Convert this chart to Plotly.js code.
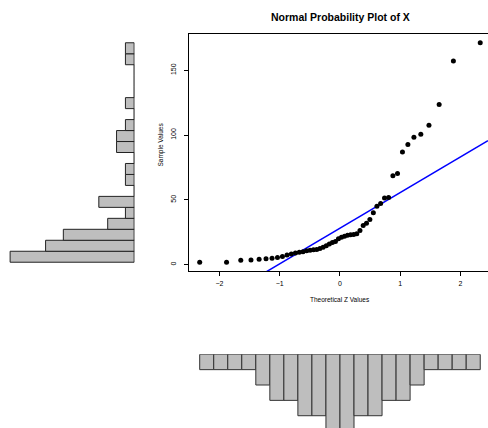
<!DOCTYPE html>
<html>
<head>
<meta charset="utf-8">
<script src="https://cdn.plot.ly/plotly-3.0.1.min.js"></script>
<style>
  html, body { margin: 0; padding: 0; background: #ffffff; }
  #chart { width: 488px; height: 428px; }
</style>
</head>
<body>
<div id="chart"></div>
<script>
// ---- data ----
// Theoretical normal quantiles (50 points)
const theoreticalZ = [
  -2.3263, -1.8808, -1.6449, -1.4758, -1.3408, -1.2265, -1.1264, -1.0364, -0.9542, -0.8779,
  -0.8064, -0.7388, -0.6745, -0.6128, -0.5534, -0.4959, -0.4399, -0.3853, -0.3319, -0.2793,
  -0.2275, -0.1764, -0.1257, -0.0753, -0.0251,  0.0251,  0.0753,  0.1257,  0.1764,  0.2275,
   0.2793,  0.3319,  0.3853,  0.4399,  0.4959,  0.5534,  0.6128,  0.6745,  0.7388,  0.8064,
   0.8779,  0.9542,  1.0364,  1.1264,  1.2265,  1.3408,  1.4758,  1.6449,  1.8808,  2.3263
];
// Sorted sample values of X
const sampleValues = [
   1.8,   1.8,   3.3,   3.6,   4.1,   4.4,   4.9,   5.4,   6.3,   7.3,
   8.2,   8.9,   9.4,   9.8,  10.6,  11.0,  11.4,  11.7,  12.3,  13.3,
  14.6,  15.8,  17.0,  17.8,  19.9,  21.1,  21.9,  22.6,  23.0,  23.2,
  23.8,  26.3,  30.2,  31.9,  34.8,  40.0,  45.0,  47.2,  51.3,  51.8,
  68.6,  70.2,  86.9,  92.6,  98.2, 100.5, 107.5, 123.5, 157.2, 171.2
];
const nBins = 20;
const titleText = "Normal Probability Plot of X";
const xTitleText = "Theoretical Z Values";
const yTitleText = "Sample Values";

// ---- helpers ----
function binCounts(vals, n) {
  const lo = Math.min(...vals), hi = Math.max(...vals);
  const w = (hi - lo) / n;
  const counts = new Array(n).fill(0);
  vals.forEach(v => {
    let k = Math.ceil((v - lo) / w - 1e-9) - 1;
    if (k < 0) k = 0;
    if (k > n - 1) k = n - 1;
    counts[k]++;
  });
  const centers = counts.map((_, i) => lo + w * (i + 0.5));
  return { counts, centers, w, lo, hi };
}
function quantile7(sorted, p) {
  const h = (sorted.length - 1) * p;
  const lo = Math.floor(h);
  return sorted[lo] + (h - lo) * (sorted[Math.min(lo + 1, sorted.length - 1)] - sorted[lo]);
}

const sorted = sampleValues.slice().sort((a, b) => a - b);
const q1 = quantile7(sorted, 0.25), q3 = quantile7(sorted, 0.75);
const zq = 0.6744898;
const slope = (q3 - q1) / (2 * zq);
const intercept = q1 + slope * zq;

const xRange = [-2.512, 2.455];
const yRange = [-4.98, 177.98];
const lineX = xRange.slice();
const lineY = lineX.map(z => intercept + slope * z);

const hy = binCounts(sampleValues, nBins);
const hz = binCounts(theoreticalZ, nBins);

const W = 488, H = 428;
const FONT = "Liberation Sans, Arial, Helvetica, sans-serif";
const barFill = "#bebebe";

const traces = [
  // left histogram (sample values, horizontal)
  {
    type: "bar", orientation: "h",
    x: hy.counts, y: hy.centers, width: hy.w,
    xaxis: "x2", yaxis: "y",
    marker: { color: barFill, line: { color: "#222222", width: 1 } },
    hoverinfo: "skip", showlegend: false
  },
  {
    type: "scatter", mode: "lines",
    x: [0, 0], y: [hy.lo, hy.hi],
    xaxis: "x2", yaxis: "y",
    line: { color: "#222222", width: 1 },
    hoverinfo: "skip", showlegend: false
  },
  // bottom histogram (theoretical z, hanging down)
  {
    type: "bar",
    x: hz.centers, y: hz.counts, width: hz.w,
    xaxis: "x", yaxis: "y3",
    marker: { color: barFill, line: { color: "#333333", width: 1 } },
    hoverinfo: "skip", showlegend: false
  },
  // qq line
  {
    type: "scatter", mode: "lines",
    x: lineX, y: lineY,
    xaxis: "x", yaxis: "y",
    line: { color: "#0000ff", width: 1.5 },
    hoverinfo: "skip", showlegend: false
  },
  // points
  {
    type: "scatter", mode: "markers",
    x: theoreticalZ, y: sampleValues,
    xaxis: "x", yaxis: "y",
    marker: { color: "#000000", size: 5 },
    hoverinfo: "skip", showlegend: false
  }
];

const layout = {
  width: W, height: H,
  margin: { l: 0, r: 0, t: 0, b: 0, pad: 0 },
  paper_bgcolor: "#ffffff", plot_bgcolor: "rgba(0,0,0,0)",
  showlegend: false,
  bargap: 0,
  font: { family: FONT, color: "#000000" },
  xaxis: {
    domain: [188.5 / W, 1], range: xRange, anchor: "y",
    showgrid: false, zeroline: false,
    showline: true, mirror: true, linecolor: "#000000", linewidth: 1,
    ticks: "outside", ticklen: 4, tickwidth: 1, tickcolor: "#000000",
    tickmode: "linear", tick0: 0, dtick: 1,
    ticklabelstandoff: 2,
    tickfont: { family: FONT, size: 7, color: "#000000" }
  },
  yaxis: {
    domain: [1 - 271 / H, 1 - 34 / H], range: yRange, anchor: "x",
    showgrid: false, zeroline: false,
    showline: true, linecolor: "#000000", linewidth: 1,
    ticks: "outside", ticklen: 4, tickwidth: 1, tickcolor: "#000000",
    tickmode: "linear", tick0: 0, dtick: 50,
    tickangle: -90,
    ticklabelstandoff: 5,
    tickfont: { family: FONT, size: 7, color: "#000000" }
  },
  xaxis2: {
    domain: [0, 134.3 / W], range: [15.14, 0], anchor: "y",
    visible: false, showgrid: false, zeroline: false
  },
  yaxis3: {
    domain: [0, (H - 354.3) / H], range: [4.80, 0], anchor: "x",
    visible: false, showgrid: false, zeroline: false
  },
  annotations: [
    {
      text: "<b>" + titleText + "</b>", xref: "paper", yref: "paper",
      x: 340 / W, y: 1 - 16.7 / H, xanchor: "center", yanchor: "middle",
      showarrow: false, font: { family: FONT, size: 10.5, color: "#000000" }
    },
    {
      text: xTitleText, xref: "paper", yref: "paper",
      x: 340 / W, y: 1 - 299 / H, xanchor: "center", yanchor: "middle",
      showarrow: false, font: { family: FONT, size: 6.5, color: "#000000" }
    },
    {
      text: yTitleText, xref: "paper", yref: "paper",
      x: 160.5 / W, y: 1 - 145 / H, xanchor: "center", yanchor: "middle",
      textangle: -90,
      showarrow: false, font: { family: FONT, size: 6.5, color: "#000000" }
    }
  ]
};

Plotly.newPlot("chart", traces, layout, { displayModeBar: false, staticPlot: true });
</script>
</body>
</html>
